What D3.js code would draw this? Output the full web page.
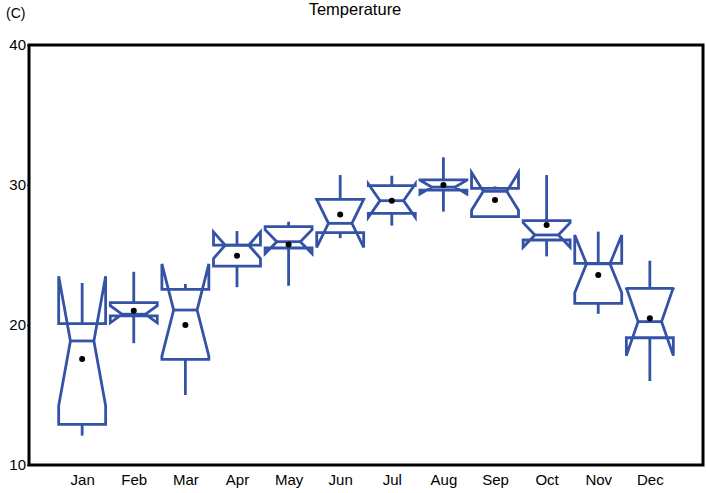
<!DOCTYPE html>
<html>
<head>
<meta charset="utf-8">
<script src="https://cdn.jsdelivr.net/npm/d3@7"></script>
<style>
  body { margin: 0; background: #fff; }
  text { font-family: "Liberation Sans", Arial, sans-serif; fill: #000; }
</style>
</head>
<body>
<svg id="graph" width="706" height="493"></svg>
<script>
// data (degrees C)
var months = ["Jan", "Feb", "Mar", "Apr", "May", "Jun", "Jul", "Aug", "Sep", "Oct", "Nov", "Dec"];
var mins    = [12.1, 18.7, 15.0, 22.7, 22.8, 26.2, 27.1, 28.1, 27.7, 24.9, 20.8, 16.0];
var q1s     = [12.9, 20.65, 17.55, 24.2, 25.5, 26.6, 27.98, 29.64, 27.74, 26.07, 21.55, 19.09];
var medians = [18.86, 20.77, 21.07, 25.7, 25.95, 27.26, 28.88, 29.85, 29.55, 26.43, 24.37, 20.24];
var q3s     = [20.1, 21.6, 22.55, 25.7, 27.02, 28.98, 29.95, 30.36, 29.76, 27.45, 24.4, 22.62];
var maxs    = [23.0, 23.8, 22.93, 26.71, 27.38, 30.71, 30.66, 31.98, 29.9, 30.71, 26.67, 24.59];
var means   = [17.57, 21.02, 20.0, 24.95, 25.75, 27.9, 28.88, 30.0, 28.93, 27.14, 23.57, 20.48];
var notches = [4.63, 0.61, 3.29, 0.95, 0.85, 1.72, 1.19, 0.5, 1.35, 0.88, 2.06, 2.43];
var yTicks  = [10, 20, 30, 40];

var title = "Temperature";
var unitLabel = "(C)";

// plot frame (note: "top" is reserved on window, so use plot* names)
const plot = { left: 29, right: 703, top: 45, bottom: 465 };
var boxColor = "#3452a6";
var lineW = 2.8;

const svg = d3.select('#graph');

const x = d3.scalePoint().domain(months).range([plot.left, plot.right]).padding(1.03);
const y = d3.scaleLinear().domain([10, 40]).range([plot.bottom, plot.top]);

var halfW = x.step() * 0.455;

// build rows for the boxes
var rows = months.map(function(m, i) {
    return { month: m, min: mins[i], q1: q1s[i], med: medians[i], q3: q3s[i],
             max: maxs[i], mean: means[i], notch: notches[i] };
});

// y axis, tiny ticks like the original
svg.append("g")
    .attr("transform", `translate(${plot.left},0)`)
    .call(d3.axisLeft(y).tickValues(yTicks).tickSize(2).tickPadding(1).tickFormat(d3.format("d")))
    .call(g => g.select(".domain").remove())
    .call(g => g.selectAll("text").style("font-size", "15px").attr("font-family", null))
    .call(g => g.selectAll("line").attr("stroke", "#000"));

// x axis labels only
svg.append("g")
    .attr("transform", `translate(0,${plot.bottom})`)
    .call(d3.axisBottom(x).tickSize(0).tickPadding(9))
    .call(g => g.select(".domain").remove())
    .call(g => g.selectAll("text").style("font-size", "15px").attr("font-family", null));

// frame
svg.append("rect")
    .attr("x", plot.left).attr("y", plot.top)
    .attr("width", plot.right - plot.left).attr("height", plot.bottom - plot.top)
    .attr("fill", "none").attr("stroke", "#000").attr("stroke-width", 3);

const boxes = svg.append("g").selectAll("g")
    .data(rows)
    .join("g");

// whiskers
boxes.append("line")
    .attr("x1", d => x(d.month)).attr("x2", d => x(d.month))
    .attr("y1", d => y(d.q3)).attr("y2", d => y(d.max))
    .attr("stroke", boxColor).attr("stroke-width", lineW);
boxes.append("line")
    .attr("x1", d => x(d.month)).attr("x2", d => x(d.month))
    .attr("y1", d => y(d.q1)).attr("y2", d => y(d.min))
    .attr("stroke", boxColor).attr("stroke-width", lineW);

// notched box outline
boxes.append("path")
    .attr("d", function(d) {
        var cx = x(d.month);
        var lo = d.med - d.notch, hi = d.med + d.notch;
        var pts = [
            [cx - halfW, y(d.q1)], [cx - halfW, y(lo)], [cx - halfW / 2, y(d.med)],
            [cx - halfW, y(hi)], [cx - halfW, y(d.q3)], [cx + halfW, y(d.q3)],
            [cx + halfW, y(hi)], [cx + halfW / 2, y(d.med)], [cx + halfW, y(lo)],
            [cx + halfW, y(d.q1)]
        ];
        return d3.line()(pts) + "Z";
    })
    .attr("fill", "none")
    .attr("stroke", boxColor)
    .attr("stroke-width", lineW);

// median line
boxes.append("line")
    .attr("x1", d => x(d.month) - halfW / 2).attr("x2", d => x(d.month) + halfW / 2)
    .attr("y1", d => y(d.med)).attr("y2", d => y(d.med))
    .attr("stroke", boxColor).attr("stroke-width", lineW);

// mean dot
boxes.append("circle")
    .attr("cx", d => x(d.month))
    .attr("cy", d => y(d.mean))
    .attr("r", 3)
    .attr("fill", "#000");

// title and unit
svg.append("text").attr("x", 355).attr("y", 15)
    .attr("text-anchor", "middle").style("font-size", "16.5px").text(title);
svg.append("text").attr("x", 6).attr("y", 18)
    .style("font-size", "14px").text(unitLabel);
</script>
</body>
</html>
